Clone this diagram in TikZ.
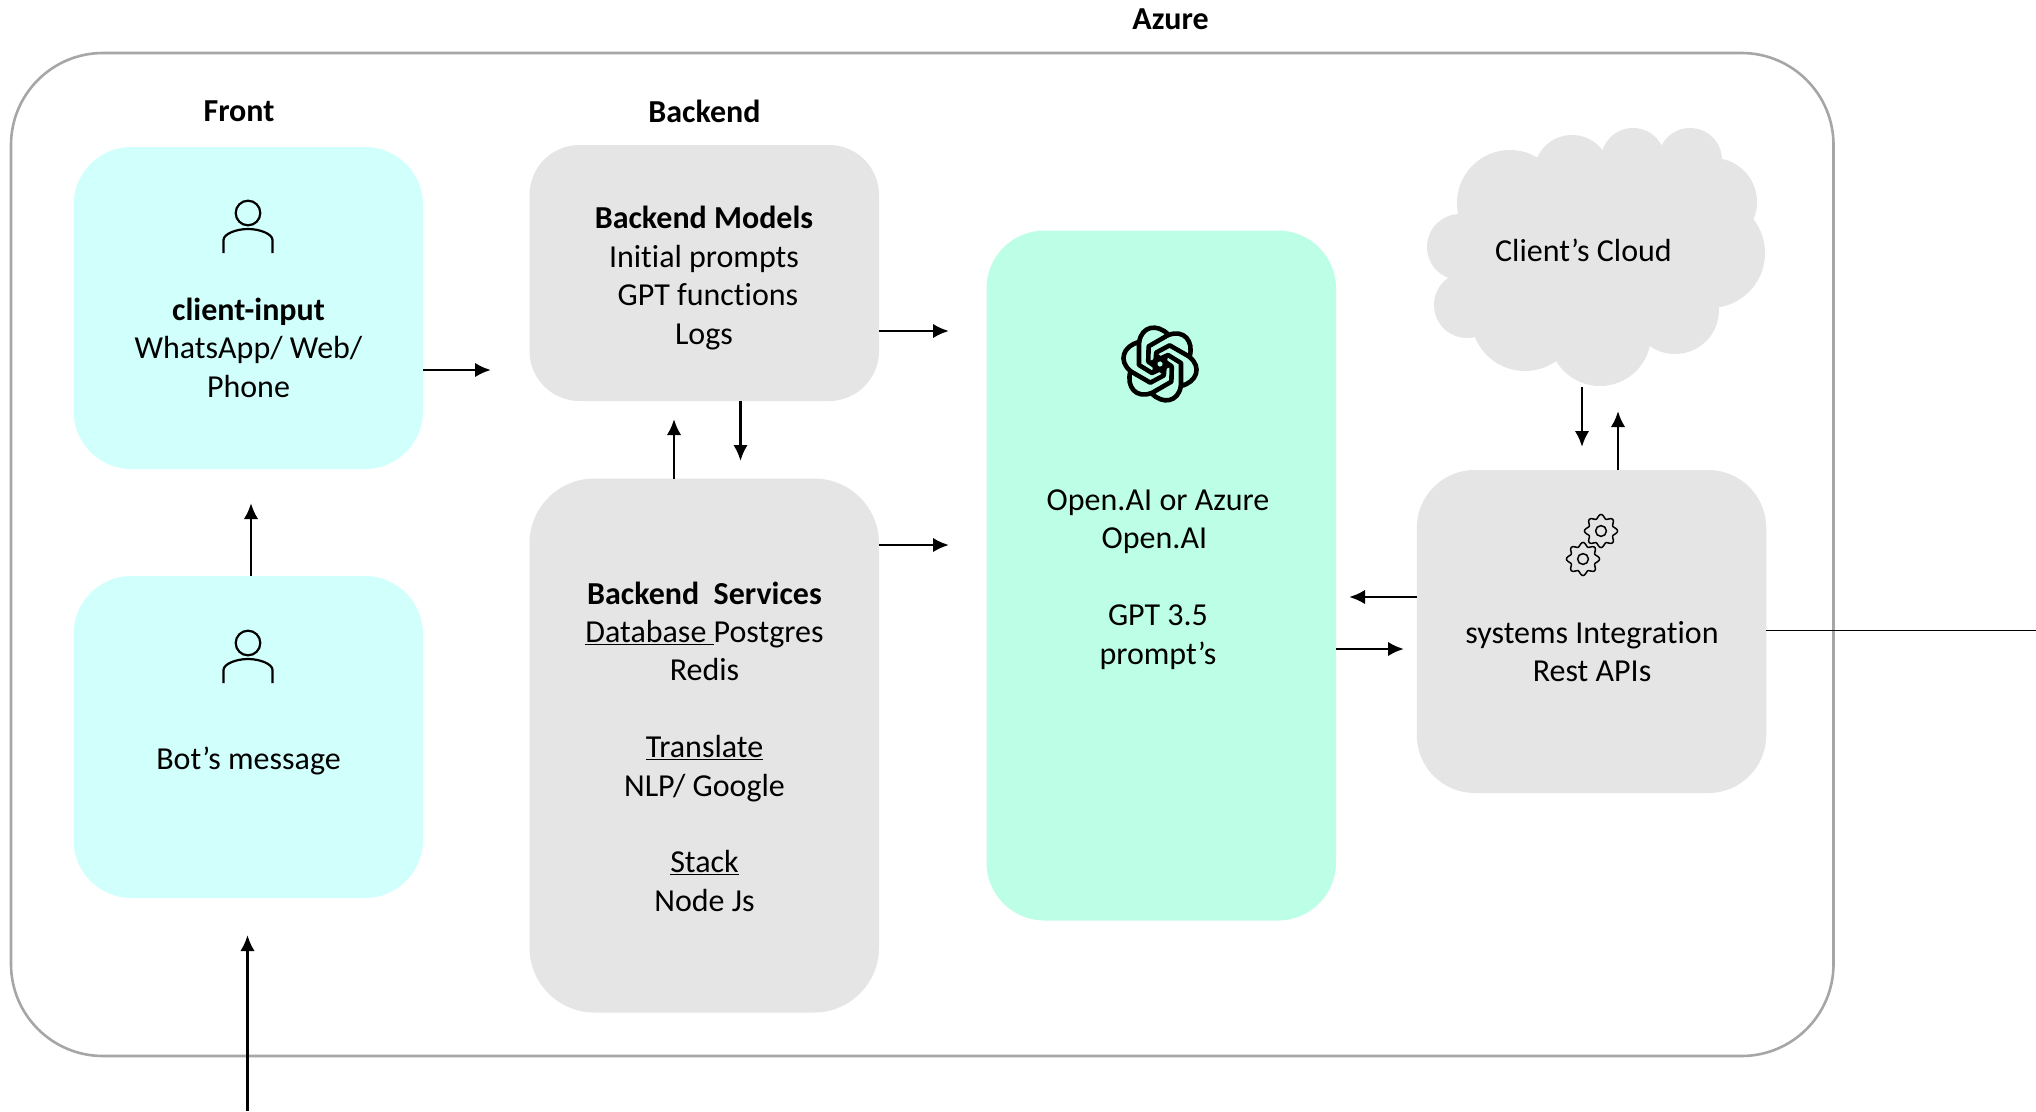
\documentclass[tikz,border=0pt]{standalone}
\usepackage{fontspec}
\setmainfont[Ligatures=NoCommon]{Carlito}
\usetikzlibrary{arrows.meta,calc}
\definecolor{frontc}{RGB}{209,255,252}
\definecolor{aic}{RGB}{189,255,230}
\definecolor{grayc}{RGB}{229,229,229}
\definecolor{framec}{RGB}{166,166,166}
\tikzset{
  x=1pt,y=-1pt,
  panel/.style={inner sep=0pt,outer sep=0pt,draw=none},
  frontbox/.style={panel,fill=frontc,minimum width=349.5pt,minimum height=322pt,rounded corners=58pt},
  graybox/.style={panel,fill=grayc,minimum width=349.5pt},
  aibox/.style={panel,fill=aic,minimum width=349.5pt,minimum height=690pt,rounded corners=58pt},
  txt/.style={font=\fontsize{32}{38.4}\selectfont,align=center,inner sep=0pt,text=black},
  title/.style={txt,font=\fontsize{32}{38.4}\selectfont\bfseries},
  flow/.style={draw=black,line width=2.8pt,-{Latex[length=16pt,width=14.5pt]}},
  icon/.style={draw=black,line width=2.2pt,line cap=butt},
  cogline/.style={draw=black,line width=1.5pt},
}
\newcommand{\personicon}[2]{%
  \begin{scope}[shift={(#1,#2)}]
    \draw[icon] (0,-40) circle (12.3);
    \draw[icon] (-24.5,0) -- (-24.5,-13) .. controls (-24.5,-19) and (-12,-24) .. (0,-24) .. controls (12,-24) and (24.5,-19) .. (24.5,-13) -- (24.5,0);
  \end{scope}}
\newcommand{\cogicon}[2]{%
  \begin{scope}[shift={(#1,#2)}]
    \draw[cogline] plot[domain=0:360,samples=97,smooth] ({(14.6+1.9*cos(8*\x))*cos(\x+90)},{(14.6+1.9*cos(8*\x))*sin(\x+90)}) -- cycle;
    \draw[cogline] (0,0) circle (5.4);
  \end{scope}}
\begin{document}
\begin{tikzpicture}
\useasboundingbox (0,0) rectangle (2036,1111);
\node[panel,draw=framec,line width=2.6pt,fill=white,minimum width=1822.5pt,minimum height=1003pt,rounded corners=92pt] (azure) at (922.25,554.5) {};
\node[title] (azuretitle) at (1170.5,19) {Azure};
\node[title] (fronttitle) at (239,111) {Front};
\node[title] (backtitle) at (704.5,111) {Backend};
% boxes
\node[frontbox] (client) at (248.25,308) {};
\node[frontbox] (bot) at (248.25,737) {};
\node[graybox,minimum height=256pt,rounded corners=50pt] (models) at (704.25,273) {};
\node[graybox,minimum height=534pt,rounded corners=65pt] (services) at (704.25,745.5) {};
\node[aibox] (ai) at (1161.25,575.5) {};
\node[graybox,minimum height=323pt,rounded corners=58pt] (systems) at (1591.5,631.5) {};
% cloud
\fill[grayc] (1510,203) -- (1572,173) -- (1633,160) -- (1690,160) -- (1713,202) -- (1710,253) -- (1675,310) -- (1600,335) -- (1525,317) -- (1467,305) -- (1460,247) -- cycle;
\foreach \cx/\cy/\cr in {1510/203/53,1572/173/38,1633/160/32,1690/160/32,1713/202/44,1710/253/55,1675/310/44,1600/335/51,1525/317/54,1467/305/33,1460/247/33}{
  \fill[grayc] (\cx,\cy) circle (\cr);
}
\coordinate (cloudb) at (1582,387);
\node[txt] (cloudtxt) at (1583.5,250.5) {Client’s Cloud};
% texts
\node[txt] (clienttxt) at (248.5,347.5) {\textbf{client-input}\\WhatsApp/ Web/\\Phone};
\node[txt] (bottxt) at (248.5,760.5) {Bot’s message};
\node[txt] (modelstxt) at (704,278) {\textbf{Backend Models}\\Initial prompts\\\mbox{\hspace{8pt}GPT functions}\\Logs};
\node[txt] (servicestxt) at (704.5,746.5) {\textbf{Backend\ \ Services}\\\underline{Database\ }Postgres\\Redis\\[38.4pt]\underline{Translate}\\NLP/ Google\\[38.4pt]\underline{Stack}\\Node Js};
\node[txt] (aitxt) at (1158,579.5) {Open.AI or Azure\\\mbox{Open.AI\hspace{7pt}}\\[38.4pt]GPT 3.5\\prompt’s};
\node[txt] (systemstxt) at (1592,651.5) {systems Integration\\Rest APIs};
% icons
\personicon{248}{253}
\personicon{248}{683}
\cogicon{1601}{531}
\cogicon{1583}{559}
\begin{scope}[shift={(1160,364)},y=1pt]
  \foreach \a in {0,60,...,300}{
    \draw[rotate=\a,draw=black,line width=4.6pt,line join=round,line cap=round]
      (9,-1) -- (-8,-9) -- (-21,-1) -- (-21,22) .. controls (-37,18) and (-42,3) .. (-29.5,-7);
  }
\end{scope}
% connectors
\coordinate (t1) at (491,370);
\coordinate (t2) at (251,503);
\coordinate (t3) at (247.5,935);
\coordinate (t4) at (949,331);
\coordinate (t5) at (949,545);
\coordinate (t6) at (674,419);
\coordinate (t7) at (740.5,461);
\coordinate (t8) at (1349,597);
\coordinate (t9) at (1404,649);
\coordinate (t10) at (1582,447);
\coordinate (t11) at (1618,411);
\coordinate (s3) at (247.5,1111);
\coordinate (e12) at (2036,630);
\draw[flow] (client.east |- t1) -- (t1);
\draw[flow] (bot.north -| t2) -- (t2);
\draw[flow] (s3) -- (t3);
\draw[flow] (models.east |- t4) -- (t4);
\draw[flow] (services.east |- t5) -- (t5);
\draw[flow] (services.north -| t6) -- (t6);
\draw[flow] (models.south -| t7) -- (t7);
\draw[flow] (systems.west |- t8) -- (t8);
\draw[flow] (ai.east |- t9) -- (t9);
\draw[flow] (cloudb) -- (t10);
\draw[flow] (systems.north -| t11) -- (t11);
\draw[draw=black,line width=1pt] (systems.east |- e12) -- (e12);
\end{tikzpicture}
\end{document}
